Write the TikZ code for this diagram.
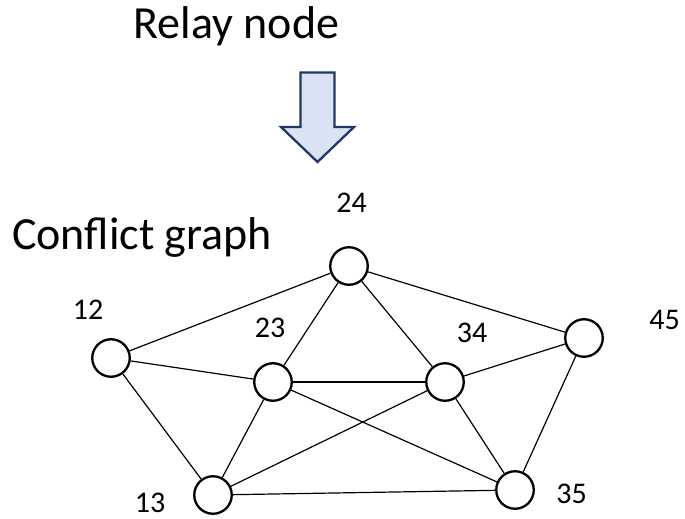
\documentclass[tikz,border=0pt]{standalone}
\usepackage{fontspec}
\setmainfont{Carlito}
\definecolor{arrowfill}{HTML}{DAE3F3}
\definecolor{arrowline}{HTML}{203864}
\tikzset{
  vertex/.style={circle, draw, line width=2.3pt, fill=white, inner sep=0pt, minimum size=37.5pt},
  lbl/.style={anchor=base, inner sep=0pt, font=\fontsize{30}{36}\selectfont},
  title/.style={anchor=base, inner sep=0pt, font=\fontsize{46}{55}\selectfont}
}
\begin{document}
\begin{tikzpicture}[x=1pt, y=-1pt]
      \useasboundingbox (0,0) rectangle (685,519);
      \node[title] (relay) at (236.5,38) {Relay node};
      \node[title, anchor=base west] (conflict) at (12,249) {Conflict graph};
      \filldraw[fill=arrowfill, draw=arrowline, line width=2.3pt, line join=miter]
        (300.5,72.5) -- (334.5,72.5) -- (334.5,127) -- (354,127) -- (317.5,162)
        -- (281,127) -- (300.5,127) -- cycle;
      \begin{scope}[-, line width=1.2pt]
        \draw (349,266) node[vertex] (24){}
          (111,358) node[vertex] (12){}
          (273,382) node[vertex] (23){}
          (445,382) node[vertex] (34){}
          (584,338) node[vertex] (45){}
          (213,495) node[vertex] (13){}
          (515,490) node[vertex] (35){};
        \draw (24) to (12);
        \draw (24) to (23);
        \draw (24) to (34);
        \draw (24) to (45);
        \draw (12) to (23);
        \draw (12) to (13);
        \draw (23) to (34);
        \draw (23) to (13);
        \draw (23) to (35);
        \draw (34) to (45);
        \draw (34) to (13);
        \draw (34) to (35);
        \draw (45) to (35);
        \draw (13) to (35);
      \end{scope}
      \node[lbl] (t24) at (351.5,212) {24};
      \node[lbl] (t12) at (88,319) {12};
      \node[lbl] (t23) at (270,337) {23};
      \node[lbl] (t34) at (472,342) {34};
      \node[lbl] (t45) at (664.5,329) {45};
      \node[lbl] (t13) at (150,512) {13};
      \node[lbl] (t35) at (571.5,503) {35};
    \end{tikzpicture}
\end{document}
